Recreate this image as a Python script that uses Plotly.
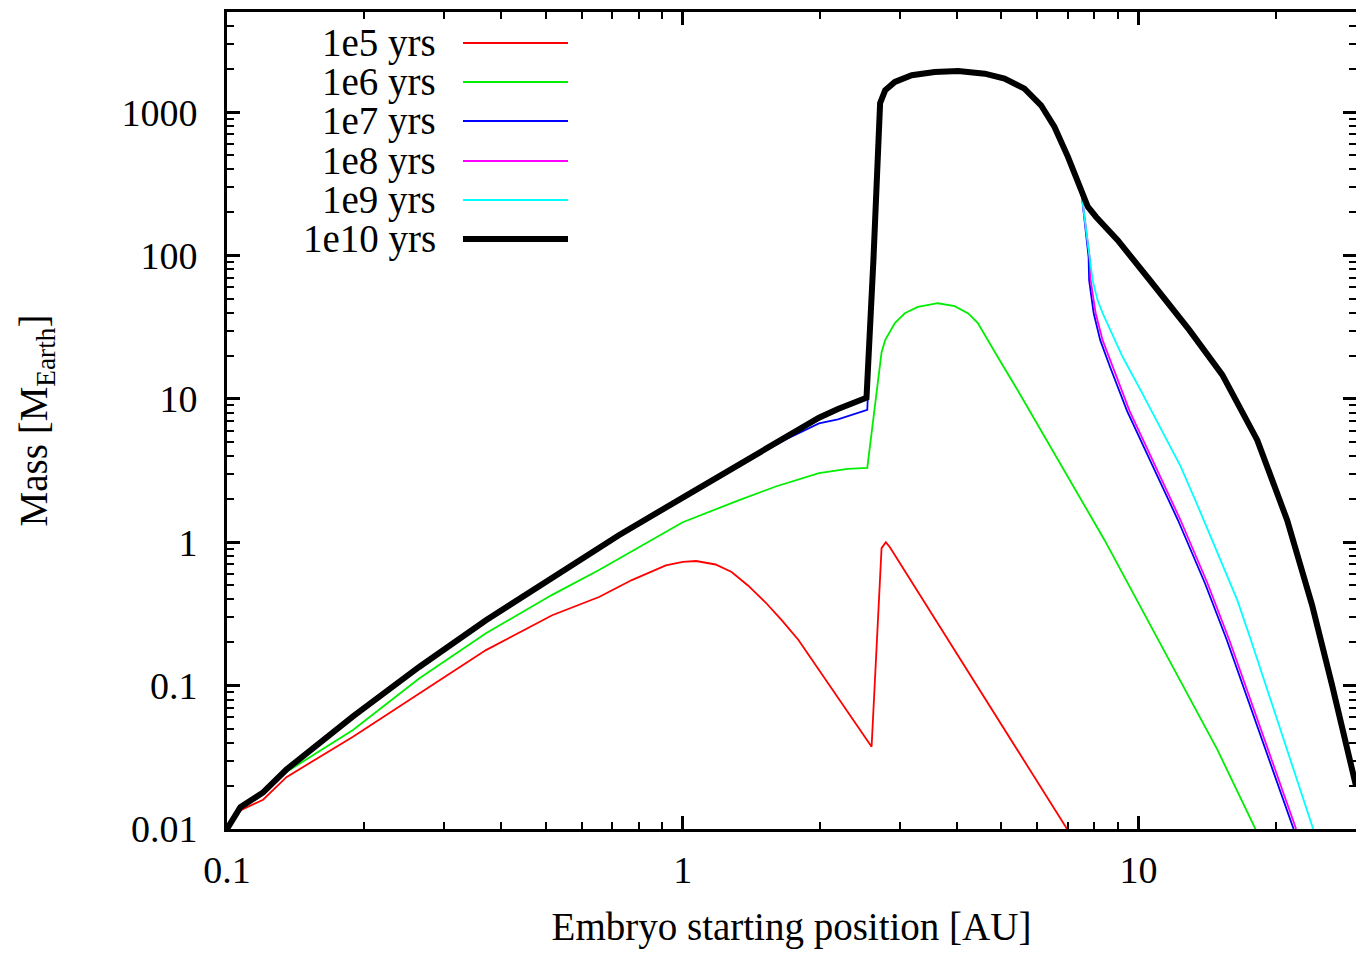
import plotly.graph_objects as go
import numpy as np

# ---------------- data ----------------
series_names = ["1e5 yrs", "1e6 yrs", "1e7 yrs", "1e8 yrs", "1e9 yrs", "1e10 yrs"]
series_colors = ["#ff0000", "#00ee00", "#0000ff", "#ff00ff", "#00ffff", "#000000"]

x_ticks = [0.1, 1, 10]
x_tick_labels = ["0.1", "1", "10"]
y_ticks = [0.01, 0.1, 1, 10, 100, 1000]
y_tick_labels = ["0.01", "0.1", "1", "10", "100", "1000"]

# 1e5 yrs
red_x = [0.1, 0.107, 0.12, 0.135, 0.189, 0.264, 0.37, 0.517, 0.655, 0.724, 0.773, 0.918, 1.0, 1.07,
         1.18, 1.28, 1.39, 1.52, 1.65, 1.794, 2.12, 2.596, 2.73, 2.79, 2.85, 4.91, 7.5]
red_y = [0.01, 0.0135, 0.016, 0.023, 0.044, 0.088, 0.177, 0.31, 0.415, 0.49, 0.545, 0.69, 0.73, 0.74,
         0.70, 0.62, 0.50, 0.38, 0.285, 0.208, 0.095, 0.0375, 0.91, 1.0, 0.92, 0.058, 0.0069]

# 1e6 yrs
green_x = [0.1, 0.107, 0.12, 0.135, 0.189, 0.264, 0.37, 0.517, 0.655, 0.724, 1.0, 1.33, 1.6, 1.99, 2.3,
           2.54, 2.73, 2.78, 2.92, 3.07, 3.28, 3.63, 3.95, 4.23, 4.44, 4.91, 5.43, 8.43, 14.9, 19.5]
green_y = [0.01, 0.0142, 0.018, 0.025, 0.049, 0.112, 0.232, 0.43, 0.64, 0.77, 1.38, 1.97, 2.45, 3.04, 3.25,
           3.3, 21.2, 25.7, 33.8, 39.6, 43.8, 46.5, 44.4, 39.5, 33.8, 19.6, 11.5, 1.03, 0.0356, 0.006]

# shared early/peak part of the 1e8, 1e9 and 1e10 runs
core_x = [0.1, 0.104, 0.107, 0.12, 0.135, 0.189, 0.264, 0.37, 0.517, 0.724, 1.0, 1.5, 1.7, 1.99, 2.19,
          2.53, 2.62, 2.71, 2.78, 2.92, 3.18, 3.57, 4.02, 4.6, 5.08, 5.62, 6.11, 6.54, 7.0, 7.48]
core_y = [0.01, 0.0125, 0.0142, 0.018, 0.026, 0.061, 0.135, 0.286, 0.56, 1.12, 2.05, 4.3, 5.45, 7.4, 8.5,
          10.2, 93, 1157, 1422, 1627, 1811, 1910, 1938, 1857, 1715, 1460, 1118, 789, 488, 286]

# 1e7 yrs
blue_x = [0.1, 0.104, 0.107, 0.12, 0.135, 0.189, 0.264, 0.37, 0.517, 0.724, 1.0, 1.5, 1.7, 1.99, 2.19,
          2.54, 2.62, 2.71, 2.78, 2.92, 3.18, 3.57, 4.02, 4.6, 5.08, 5.62, 6.11, 6.54, 7.0, 7.48,
          7.54, 7.66, 7.77, 7.79, 7.97, 8.24, 8.66, 9.44, 10.33, 12.2, 13.98, 15.62, 21.89, 22.9]
blue_y = [0.01, 0.0125, 0.0142, 0.018, 0.026, 0.061, 0.135, 0.286, 0.56, 1.12, 2.05, 4.3, 5.3, 6.75, 7.2,
          8.4, 93, 1157, 1422, 1627, 1811, 1910, 1938, 1857, 1715, 1460, 1118, 789, 488, 286,
          232, 150, 97.5, 67.3, 39.7, 25.7, 16.7, 8.22, 4.47, 1.43, 0.52, 0.208, 0.01, 0.0069]

# 1e8 yrs (tail after leaving the 1e10 curve)
magenta_tail_x = [7.54, 7.66, 7.81, 7.85, 8.05, 8.34, 8.77, 9.56, 10.46, 12.36, 14.16, 15.82, 22.17, 23.2]
magenta_tail_y = [232, 150, 97.5, 67.3, 39.7, 25.7, 16.7, 8.22, 4.47, 1.43, 0.52, 0.208, 0.01, 0.0069]

# 1e9 yrs (tail after leaving the 1e10 curve)
cyan_tail_x = [7.54, 7.66, 7.81, 7.93, 8.13, 8.34, 9.23, 10.05, 10.9, 12.36, 13.46, 14.67, 16.47, 17.58,
               24.03, 25.27]
cyan_tail_y = [232, 150, 97.5, 67.3, 48.9, 39.7, 19.6, 11.9, 7.23, 3.40, 1.82, 0.94, 0.395, 0.215,
               0.0105, 0.0065]

# 1e10 yrs (tail)
black_tail_x = [7.74, 8.07, 9.0, 10.6, 12.93, 15.27, 18.22, 21.18, 24.03, 26.58, 29.1, 29.55, 30.0]
black_tail_y = [219, 186, 128, 67, 30.2, 14.7, 5.16, 1.43, 0.365, 0.101, 0.0288, 0.0238, 0.02]

magenta_x = core_x + magenta_tail_x
magenta_y = core_y + magenta_tail_y
cyan_x = core_x + cyan_tail_x
cyan_y = core_y + cyan_tail_y
black_x = core_x + black_tail_x
black_y = core_y + black_tail_y

series_x = [red_x, green_x, blue_x, magenta_x, cyan_x, black_x]
series_y = [red_y, green_y, blue_y, magenta_y, cyan_y, black_y]
series_widths = [1.8, 1.8, 1.8, 1.8, 1.8, 6]

FONT = "Liberation Serif"
FS_TICK = 38
FS_TEXT = 39

# The page body adds an 8px offset; plot-area placement in reference pixels
OFF = 8
FIG_W, FIG_H = 1350, 941
plot_top, plot_bot, plot_left, plot_right = 12, 829, 227, 1356
H = plot_bot - plot_top
W = plot_right - plot_left

fig = go.Figure()
for name, xs, ys, col, w in zip(series_names, series_x, series_y, series_colors, series_widths):
    fig.add_trace(go.Scatter(x=xs, y=ys, mode="lines", name=name,
                             line=dict(color=col, width=w), showlegend=False))

# gnuplot-style key: text right-aligned, then a line sample
row_py = [43, 82, 121, 161, 200, 239]
for name, col, w, py in zip(series_names, series_colors, series_widths, row_py):
    yp = (plot_bot - py) / H
    fig.add_annotation(xref="paper", yref="paper", x=(438 - plot_left) / W, y=yp,
                       text=name, showarrow=False, xanchor="right", yanchor="middle",
                       font=dict(family=FONT, size=FS_TEXT, color="black"))
    fig.add_shape(type="line", xref="paper", yref="paper",
                  x0=(463 - plot_left) / W, x1=(568 - plot_left) / W, y0=yp, y1=yp,
                  line=dict(color=col, width=w))

axis_common = dict(
    type="log", showgrid=False, zeroline=False, automargin=False,
    showline=True, linecolor="black", linewidth=3, mirror="allticks",
    ticks="inside", ticklen=13, tickwidth=2.5, tickcolor="black",
    tickfont=dict(family=FONT, size=FS_TICK, color="black"),
    minor=dict(ticks="inside", ticklen=7, tickwidth=2, tickcolor="black", dtick="D1", showgrid=False),
)

fig.update_xaxes(**axis_common, range=[np.log10(0.1), np.log10(30)],
                 tickvals=x_ticks, ticktext=x_tick_labels, ticklabelstandoff=5,
                 title=dict(text="Embryo starting position [AU]", standoff=28,
                            font=dict(family=FONT, size=FS_TEXT, color="black")))
fig.update_yaxes(**axis_common, range=[np.log10(0.01), np.log10(5000)],
                 tickvals=y_ticks, ticktext=y_tick_labels, ticklabelstandoff=19,
                 title=dict(text="Mass [M<sub>Earth</sub>]", standoff=62,
                            font=dict(family=FONT, size=FS_TEXT, color="black")))

fig.update_layout(
    width=FIG_W, height=FIG_H,
    margin=dict(l=plot_left - OFF, r=FIG_W - (plot_right - OFF), t=plot_top - OFF,
                b=FIG_H - (plot_bot - OFF)),
    paper_bgcolor="white", plot_bgcolor="white",
    font=dict(family=FONT, size=FS_TEXT, color="black"),
)

fig.write_html("out.html")
